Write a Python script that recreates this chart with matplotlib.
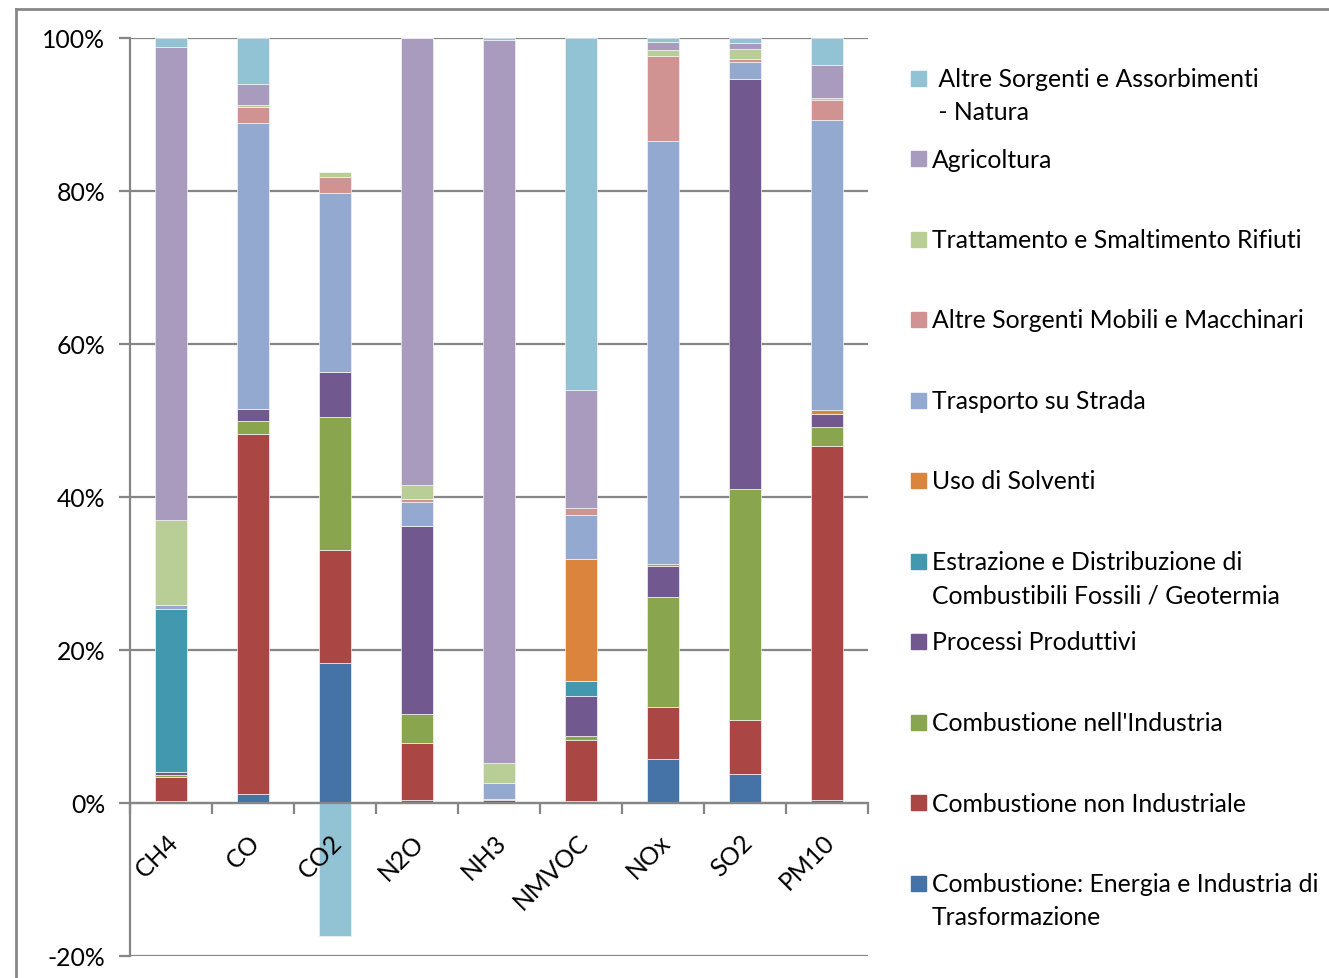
# Emissioni per macrosettore - grafico a barre impilate (percentuali)
import matplotlib.pyplot as plt
import matplotlib.lines as mlines
import matplotlib.patches as patches
import numpy as np

plt.rcParams['font.family'] = ['Lato', 'DejaVu Sans']

inquinanti = ['CH4', 'CO', 'CO2', 'N2O', 'NH3', 'NMVOC', 'NOx', 'SO2', 'PM10']

# valori in % per macrosettore (dal basso verso l'alto)
energia     = [0.3, 1.2, 18.3, 0.4, 0.1, 0.2, 5.8, 3.75, 0.45]
non_ind     = [3.1, 47.0, 14.8, 7.5, 0.3, 8.1, 6.8, 7.05, 46.25]
industria   = [0.3, 1.7, 17.3, 3.7, 0.05, 0.4, 14.3, 30.2, 2.5]
processi    = [0.35, 1.6, 5.9, 24.6, 0.1, 5.3, 4.1, 53.7, 1.6]
estrazione  = [21.35, 0, 0, 0, 0, 1.9, 0, 0, 0]
solventi    = [0, 0, 0, 0, 0, 16.0, 0.3, 0, 0.6]
trasporto   = [0.5, 37.4, 23.5, 3.1, 2.0, 5.8, 55.2, 2.2, 37.9]
mobili      = [0, 2.1, 2.0, 0.5, 0, 0.8, 11.2, 0.4, 2.6]
rifiuti     = [11.1, 0.2, 0.7, 1.8, 2.7, 0.1, 0.7, 1.3, 0.2]
agricoltura = [61.8, 2.8, 0, 58.4, 94.45, 15.4, 1.1, 0.8, 4.4]
natura      = [1.2, 6.0, -17.4, 0, 0.3, 46.0, 0.5, 0.6, 3.5]

serie = [energia, non_ind, industria, processi, estrazione, solventi,
         trasporto, mobili, rifiuti, agricoltura, natura]
colori = ['#4572A7', '#AA4643', '#89A54E', '#71588F', '#4198AF', '#DB843D',
          '#93A9CF', '#D19392', '#B9CD96', '#A99BBD', '#92C3D5']
etichette = ['Combustione: Energia e Industria di\nTrasformazione',
             'Combustione non Industriale',
             "Combustione nell'Industria",
             'Processi Produttivi',
             'Estrazione e Distribuzione di\nCombustibili Fossili / Geotermia',
             'Uso di Solventi',
             'Trasporto su Strada',
             'Altre Sorgenti Mobili e Macchinari',
             'Trattamento e Smaltimento Rifiuti',
             'Agricoltura',
             ' Altre Sorgenti e Assorbimenti\n - Natura']

FS = 17.8
W, H = 1329, 979
fig = plt.figure(figsize=(W / 100, H / 100), dpi=100)
ax = fig.add_axes([130 / W, 1 - 957 / H, 738 / W, 918 / H])
ax.set_axisbelow(False)

x = np.arange(len(inquinanti))
pos = np.zeros(len(x))
neg = np.zeros(len(x))
for vals, col in zip(serie, colori):
    v = np.array(vals, dtype=float)
    bottom = np.where(v >= 0, pos, neg)
    ax.bar(x, v, 0.40, bottom=bottom, color=col, edgecolor='#f4f4f4',
           linewidth=0.5, zorder=2)
    pos = pos + np.where(v > 0, v, 0)
    neg = neg + np.where(v < 0, v, 0)

ax.set_xlim(-0.5, len(x) - 0.5)
ax.set_ylim(-20, 100)

# griglia orizzontale
for yv in range(-20, 101, 20):
    ax.axhline(yv, color='#868686', lw=1.6, zorder=1)

ax.set_yticks(range(-20, 101, 20))
ax.set_yticklabels([f'{v}%' for v in range(-20, 101, 20)], fontsize=FS)
ax.tick_params(axis='y', length=8, width=1.6, color='#868686', pad=10)

ax.spines['bottom'].set_position(('data', 0))
ax.spines['bottom'].set_color('#868686')
ax.spines['bottom'].set_linewidth(1.6)
ax.spines['left'].set_color('#868686')
ax.spines['left'].set_linewidth(1.6)
ax.spines['top'].set_visible(False)
ax.spines['right'].set_visible(False)

ax.set_xticks(np.arange(-0.5, len(x), 1.0))
ax.set_xticklabels([])
ax.tick_params(axis='x', which='major', length=8, width=1.6, color='#868686')
ax.set_xticks(x + 0.04, minor=True)
ax.set_xticklabels(inquinanti, minor=True, rotation=45, ha='right',
                   va='center', rotation_mode='anchor', fontsize=FS)
ax.tick_params(axis='x', which='minor', length=0, pad=25)

# legenda disegnata a mano
step = 80.5
for i, (lab, col) in enumerate(zip(etichette, colori)):
    yc = 884 - i * step
    fig.patches.append(patches.Rectangle((911 / W, 1 - (yc + 7.5) / H),
                                         15 / W, 15 / H, color=col,
                                         transform=fig.transFigure))
    fig.text(932 / W, 1 - (yc - 11) / H, lab, fontsize=FS, va='top',
             ha='left', linespacing=1.55)

# cornice esterna del grafico
fig.add_artist(mlines.Line2D([16 / W, 16 / W], [0, 1 - 10 / H],
                             color='#878787', lw=2, transform=fig.transFigure))
fig.add_artist(mlines.Line2D([16 / W, 1], [1 - 10 / H, 1 - 10 / H],
                             color='#878787', lw=2, transform=fig.transFigure))

fig.savefig('out.png', dpi=100)
